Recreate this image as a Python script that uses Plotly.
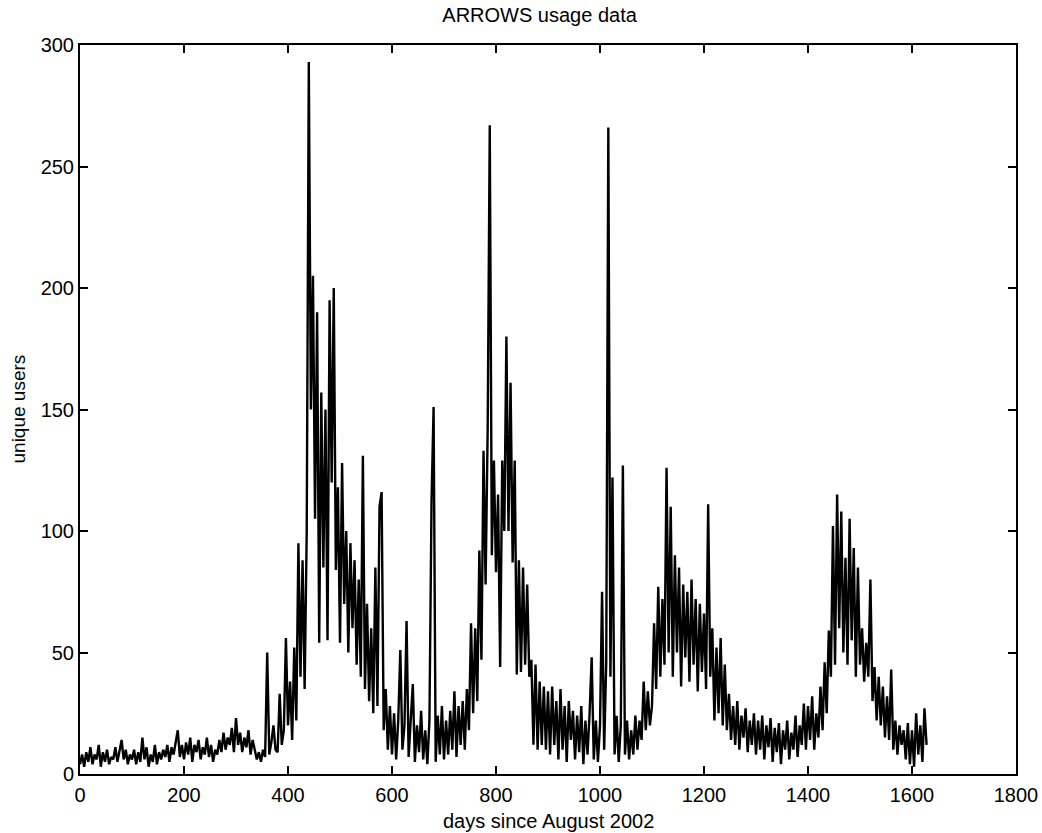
import numpy as np
import plotly.graph_objects as go

STEP = 4  # days between readings

seg_0000 = [4, 8, 3, 9, 5, 11, 4, 8, 6, 12, 3, 9, 5, 10, 4, 7, 6, 11, 5, 9, 14, 6, 10, 4, 8]
seg_0100 = [6, 10, 4, 9, 5, 15, 6, 11, 3, 8, 5, 12, 4, 9, 6, 10, 7, 12, 5, 11, 8, 13, 18, 7, 12]
seg_0200 = [6, 13, 8, 15, 5, 12, 9, 14, 6, 11, 8, 15, 7, 12, 5, 10, 8, 14, 9, 17, 10, 15, 12, 19, 9]
seg_0300 = [23, 12, 17, 9, 15, 11, 18, 8, 14, 10, 6, 9, 5, 10, 7, 50, 8, 13, 20, 10, 9, 33, 12, 18, 56]
seg_0400 = [20, 38, 14, 52, 22, 95, 40, 88, 35, 100, 293, 150, 205, 105, 190, 54, 157, 85, 150, 55, 195, 120, 200, 84, 118]
seg_0500 = [54, 128, 70, 100, 50, 95, 60, 88, 45, 80, 40, 131, 35, 70, 30, 60, 25, 85, 28, 110, 116, 18, 35, 10, 28]
seg_0600 = [8, 25, 6, 22, 51, 10, 20, 63, 7, 24, 37, 5, 20, 9, 26, 6, 18, 4, 22, 112, 151, 5, 24, 8, 28]
seg_0700 = [6, 22, 8, 26, 10, 34, 7, 28, 12, 30, 10, 35, 18, 62, 25, 60, 30, 92, 47, 133, 78, 142, 267, 90, 129]
seg_0800 = [83, 115, 44, 129, 100, 180, 100, 161, 87, 129, 41, 88, 42, 85, 45, 78, 40, 47, 12, 45, 10, 38, 12, 36, 10]
seg_0900 = [34, 8, 36, 12, 30, 6, 35, 10, 28, 5, 30, 14, 26, 6, 24, 9, 28, 4, 22, 8, 25, 48, 6, 22, 5]
seg_1000 = [20, 75, 10, 46, 266, 40, 122, 8, 24, 5, 20, 127, 8, 22, 6, 18, 8, 24, 10, 22, 14, 38, 18, 34, 20]
seg_1100 = [28, 62, 35, 77, 40, 72, 45, 126, 50, 110, 40, 90, 50, 85, 36, 78, 48, 75, 38, 80, 45, 72, 34, 70, 42]
seg_1200 = [66, 35, 111, 40, 60, 22, 52, 25, 56, 20, 45, 18, 33, 14, 28, 12, 30, 10, 24, 15, 27, 9, 22, 12, 25]
seg_1300 = [8, 22, 10, 24, 6, 20, 11, 23, 5, 19, 9, 21, 4, 18, 10, 22, 6, 17, 10, 24, 7, 20, 12, 29, 10]
seg_1400 = [28, 14, 32, 10, 25, 15, 36, 18, 46, 25, 59, 40, 102, 45, 115, 60, 108, 50, 89, 45, 105, 55, 93, 40, 85]
seg_1500 = [45, 60, 38, 54, 40, 80, 30, 44, 22, 40, 20, 36, 15, 32, 14, 43, 10, 22, 8, 20, 12, 18, 6, 21, 4]
seg_1600 = [18, 3, 25, 8, 20, 5, 27, 12]

users = (seg_0000 + seg_0100 + seg_0200 + seg_0300 + seg_0400 + seg_0500 + seg_0600
         + seg_0700 + seg_0800 + seg_0900 + seg_1000 + seg_1100 + seg_1200 + seg_1300
         + seg_1400 + seg_1500 + seg_1600)
days = np.arange(len(users)) * STEP

x_ticks = [0, 200, 400, 600, 800, 1000, 1200, 1400, 1600, 1800]
y_ticks = [0, 50, 100, 150, 200, 250, 300]

FONT = "Liberation Sans, Arial, Helvetica, sans-serif"

fig = go.Figure(go.Scatter(x=days, y=users, mode="lines",
                           line=dict(color="black", width=2.4), showlegend=False))

axis_common = dict(showline=True, linecolor="black", linewidth=2, mirror="ticks",
                   ticks="inside", ticklen=8, tickwidth=2, tickcolor="black",
                   showgrid=False, zeroline=False, automargin=False,
                   tickfont=dict(family=FONT, size=20, color="black"))

fig.update_layout(
    width=1042, height=833,
    paper_bgcolor="white", plot_bgcolor="white",
    margin=dict(l=80, r=26, t=45, b=59),
    title=dict(text="ARROWS usage data", x=0.491, xanchor="center", xref="paper",
               y=1 - 15 / 833, yanchor="middle", yref="container",
               font=dict(family=FONT, size=20, color="black")),
    xaxis=dict(range=[0, 1800], tickvals=x_ticks, ticklabelstandoff=2, **axis_common),
    yaxis=dict(range=[0, 300], tickvals=y_ticks, **axis_common),
    annotations=[
        dict(text="days since August 2002", x=0.5, y=0, xref="paper", yref="paper",
             xanchor="center", yanchor="middle", yshift=-47, showarrow=False,
             font=dict(family=FONT, size=20, color="black")),
        dict(text="unique users", x=0, y=0.5, xref="paper", yref="paper",
             xanchor="center", yanchor="middle", xshift=-62, textangle=-90,
             showarrow=False, font=dict(family=FONT, size=19, color="black")),
    ],
)

fig.write_html("out.html", config={"displayModeBar": False},
               post_script="document.body.style.margin='0';document.body.style.overflow='hidden';")
